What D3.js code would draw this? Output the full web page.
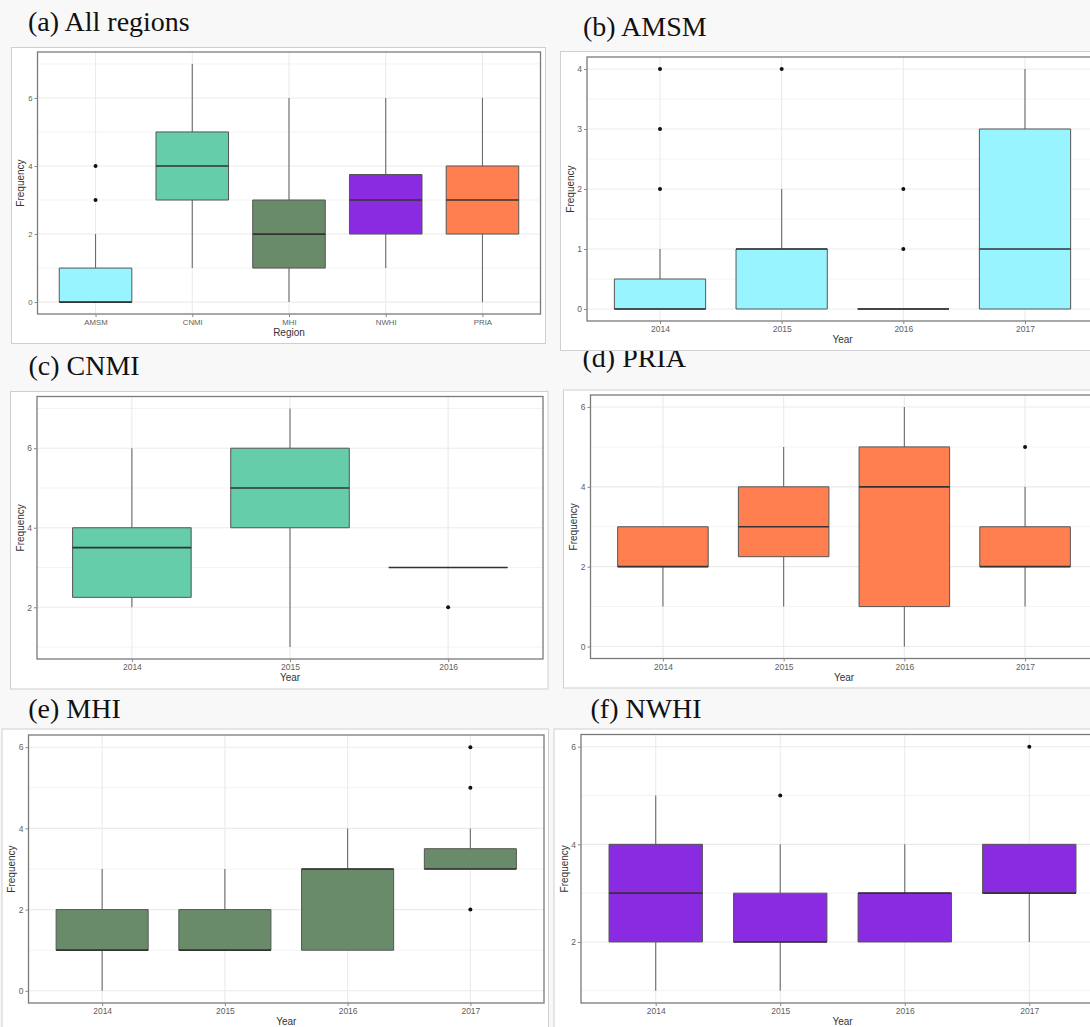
<!DOCTYPE html>
<html>
<head>
<meta charset="utf-8">
<script src="https://cdn.jsdelivr.net/npm/d3@7"></script>
<style>
  body { margin: 0; background: #f8f8f8; }
  svg { display: block; }
</style>
</head>
<body>
<div id="chart"></div>
<script>
// categories
var regions = ["AMSM", "CNMI", "MHI", "NWHI", "PRIA"];
var years = ["2014", "2015", "2016", "2017"];
var yearsCNMI = ["2014", "2015", "2016"];

var regionColors = ["#98f5ff", "#66cdaa", "#698b69", "#8a2be2", "#ff7f50"];

// box stats per category: [lower whisker, q1, median, q3, upper whisker]
var statsAll  = [[0, 0, 0, 1, 2], [1, 3, 4, 5, 7], [0, 1, 2, 3, 6], [1, 2, 3, 3.75, 6], [0, 2, 3, 4, 6]];
var outAll    = [[3, 4], [], [], [], []];

var statsAMSM = [[0, 0, 0, 0.5, 1], [0, 0, 1, 1, 2], [0, 0, 0, 0, 0], [0, 0, 1, 3, 4]];
var outAMSM   = [[2, 3, 4], [4], [1, 2], []];

var statsCNMI = [[2, 2.25, 3.5, 4, 6], [1, 4, 5, 6, 7], [3, 3, 3, 3, 3]];
var outCNMI   = [[], [], [2]];

var statsPRIA = [[1, 2, 2, 3, 3], [1, 2.25, 3, 4, 5], [0, 1, 4, 5, 6], [1, 2, 2, 3, 4]];
var outPRIA   = [[], [], [], [5]];

var statsMHI  = [[0, 1, 1, 2, 3], [1, 1, 1, 2, 3], [1, 1, 3, 3, 4], [3, 3, 3, 3.5, 4]];
var outMHI    = [[], [], [], [2, 5, 6]];

var statsNWHI = [[1, 2, 3, 4, 5], [1, 2, 2, 3, 4], [2, 2, 3, 3, 4], [2, 3, 3, 4, 4]];
var outNWHI   = [[], [5], [], [6]];

// y tick labels
var ticksAll  = [0, 2, 4, 6];
var ticksAMSM = [0, 1, 2, 3, 4];
var ticksCNMI = [2, 4, 6];
var ticksPRIA = [0, 2, 4, 6];
var ticksMHI  = [0, 2, 4, 6];
var ticksNWHI = [2, 4, 6];

var svgWidth = 1090;
var svgHeight = 1027;

var svg = d3.select("#chart")
  .append("svg")
  .attr("width", svgWidth)
  .attr("height", svgHeight);

svg.append("rect")
  .attr("width", svgWidth)
  .attr("height", svgHeight)
  .attr("fill", "#f8f8f8");

// layout of each screenshot panel
var panels = [
  { title: "(a) All regions", tx: 28, ty: 30.5, cats: regions, stats: statsAll, outs: outAll, ticks: ticksAll,
    color: regionColors, xTitle: "Region", tickFont: 7.8,
    box: [11.5, 47.5, 545.5, 343.5], plot: [37.5, 52, 540.5, 314] },
  { title: "(b) AMSM", tx: 583, ty: 36, cats: years, stats: statsAMSM, outs: outAMSM, ticks: ticksAMSM,
    color: "#98f5ff", xTitle: "Year", tickFont: 8.5,
    box: [560.5, 51.5, 1100, 350.5], plot: [587, 57, 1098, 321] },
  { title: "(c) CNMI", tx: 28.5, ty: 375, cats: yearsCNMI, stats: statsCNMI, outs: outCNMI, ticks: ticksCNMI,
    color: "#66cdaa", xTitle: "Year", tickFont: 8.5,
    box: [10.5, 391.5, 548, 689], plot: [37, 396.5, 543, 659] },
  { title: "(d) PRIA", tx: 582.5, ty: 367, cats: years, stats: statsPRIA, outs: outPRIA, ticks: ticksPRIA,
    color: "#ff7f50", xTitle: "Year", tickFont: 8.5,
    box: [563.5, 390, 1100, 688], plot: [590.5, 395, 1097.5, 658.5] },
  { title: "(e) MHI", tx: 28.3, ty: 718, cats: years, stats: statsMHI, outs: outMHI, ticks: ticksMHI,
    color: "#698b69", xTitle: "Year", tickFont: 8.5,
    box: [2, 729, 548.5, 1040], plot: [28.5, 735, 544, 1003] },
  { title: "(f) NWHI", tx: 590.5, ty: 718, cats: years, stats: statsNWHI, outs: outNWHI, ticks: ticksNWHI,
    color: "#8a2be2", xTitle: "Year", tickFont: 8.5,
    box: [554, 729, 1100, 1040], plot: [581, 734.5, 1104, 1003] }
];

// titles go underneath the screenshots (the (d) title is clipped by panel b)
panels.forEach(function(p) {
  svg.append("text")
    .attr("x", p.tx)
    .attr("y", p.ty)
    .attr("font-family", "Liberation Serif, Times New Roman, serif")
    .attr("font-size", 28)
    .attr("fill", "#111")
    .text(p.title);
});

panels.forEach(function(p) {
  var g = svg.append("g");

  // white screenshot card
  g.append("rect")
    .attr("x", p.box[0]).attr("y", p.box[1])
    .attr("width", p.box[2] - p.box[0]).attr("height", p.box[3] - p.box[1])
    .attr("fill", "#fff")
    .attr("stroke", "#cfcfcf")
    .attr("stroke-width", 1);

  var x0 = p.plot[0], y0 = p.plot[1], x1 = p.plot[2], y1 = p.plot[3];

  // data range with ggplot's 5% expansion
  var vals = [];
  p.stats.forEach(function(s, i) { vals = vals.concat(s, p.outs[i]); });
  var lo = d3.min(vals), hi = d3.max(vals);
  var pad = (hi - lo) * 0.05;

  var x = d3.scalePoint().domain(p.cats).range([x0, x1]).padding(0.6);
  var y = d3.scaleLinear().domain([lo - pad, hi + pad]).range([y1, y0]);
  var boxW = x.step() * 0.75;

  var step = p.ticks[1] - p.ticks[0];
  var minor = d3.range(p.ticks[0] - step / 2, hi + pad, step).filter(function(v) { return v >= lo - pad; });

  g.append("rect")
    .attr("x", x0).attr("y", y0)
    .attr("width", x1 - x0).attr("height", y1 - y0)
    .attr("fill", "#fff");

  // grid
  var grid = g.append("g");
  grid.selectAll(".minor")
    .data(minor)
    .enter().append("line")
    .attr("x1", x0).attr("x2", x1)
    .attr("y1", function(d) { return y(d); }).attr("y2", function(d) { return y(d); })
    .attr("stroke", "#f3f3f3").attr("stroke-width", 1);
  grid.selectAll(".major")
    .data(p.ticks)
    .enter().append("line")
    .attr("x1", x0).attr("x2", x1)
    .attr("y1", function(d) { return y(d); }).attr("y2", function(d) { return y(d); })
    .attr("stroke", "#ebebeb").attr("stroke-width", 1.1);
  grid.selectAll(".vert")
    .data(p.cats)
    .enter().append("line")
    .attr("x1", function(d) { return x(d); }).attr("x2", function(d) { return x(d); })
    .attr("y1", y0).attr("y2", y1)
    .attr("stroke", "#ebebeb").attr("stroke-width", 1.1);

  var fill = function(i) { return Array.isArray(p.color) ? p.color[i] : p.color; };

  // whiskers, boxes, medians, outliers
  p.cats.forEach(function(c, i) {
    var s = p.stats[i];
    var cx = x(c);
    g.append("line")
      .attr("x1", cx).attr("x2", cx)
      .attr("y1", y(s[4])).attr("y2", y(s[3]))
      .attr("stroke", "#6b6b6b").attr("stroke-width", 1.1);
    g.append("line")
      .attr("x1", cx).attr("x2", cx)
      .attr("y1", y(s[1])).attr("y2", y(s[0]))
      .attr("stroke", "#6b6b6b").attr("stroke-width", 1.1);

    var bx = cx - boxW / 2;
    var path = d3.path();
    path.rect(bx, y(s[3]), boxW, y(s[1]) - y(s[3]));
    g.append("path")
      .attr("d", path.toString())
      .attr("fill", fill(i))
      .attr("stroke", "#555")
      .attr("stroke-width", 1);

    g.append("line")
      .attr("x1", bx).attr("x2", bx + boxW)
      .attr("y1", y(s[2])).attr("y2", y(s[2]))
      .attr("stroke", "#333")
      .attr("stroke-width", 1.7);

    g.selectAll(null)
      .data(p.outs[i])
      .enter().append("circle")
      .attr("cx", cx)
      .attr("cy", function(d) { return y(d); })
      .attr("r", 2)
      .attr("fill", "#111");
  });

  // panel border
  g.append("rect")
    .attr("x", x0).attr("y", y0)
    .attr("width", x1 - x0).attr("height", y1 - y0)
    .attr("fill", "none")
    .attr("stroke", "#7a7a7a")
    .attr("stroke-width", 1.3);

  // axes
  var yAxis = g.append("g")
    .attr("transform", "translate(" + x0 + ",0)")
    .call(d3.axisLeft(y).tickValues(p.ticks).tickSize(3).tickPadding(2).tickFormat(d3.format("d")));
  var xAxis = g.append("g")
    .attr("transform", "translate(0," + y1 + ")")
    .call(d3.axisBottom(x).tickSize(3).tickPadding(2));

  [yAxis, xAxis].forEach(function(a) {
    a.select(".domain").remove();
    a.selectAll(".tick line").attr("stroke", "#888");
    a.selectAll(".tick text")
      .attr("fill", "#606060")
      .attr("font-family", "Liberation Sans, Arial, sans-serif")
      .attr("font-size", p.tickFont);
  });

  g.append("text")
    .attr("x", (x0 + x1) / 2)
    .attr("y", y1 + 22)
    .attr("text-anchor", "middle")
    .attr("font-family", "Liberation Sans, Arial, sans-serif")
    .attr("font-size", 10)
    .attr("fill", "#333")
    .text(p.xTitle);

  g.append("text")
    .attr("transform", "translate(" + (x0 - 13.5) + "," + ((y0 + y1) / 2) + ") rotate(-90)")
    .attr("text-anchor", "middle")
    .attr("font-family", "Liberation Sans, Arial, sans-serif")
    .attr("font-size", 10)
    .attr("fill", "#333")
    .text("Frequency");
});
</script>
</body>
</html>
